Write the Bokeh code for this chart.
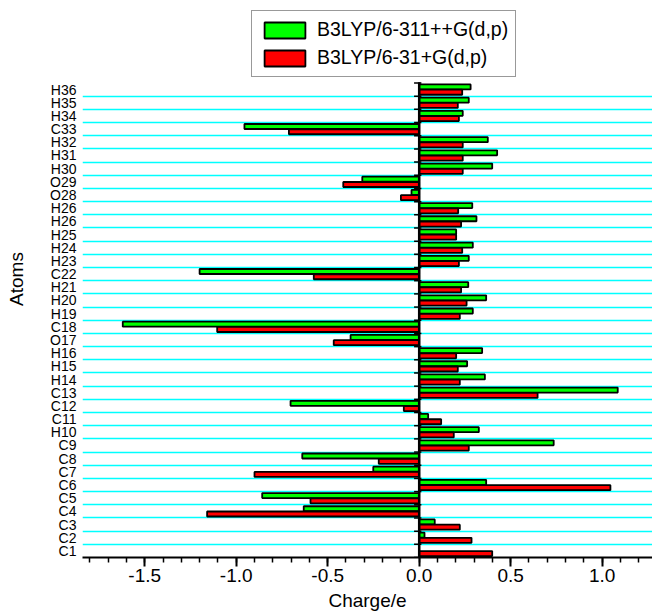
from bokeh.plotting import figure
from bokeh.models import (Range1d, FixedTicker, SingleIntervalTicker, PrintfTickFormatter,
                          CustomJSTickFormatter, Legend, LegendItem, ColumnDataSource)
from bokeh.embed import file_html
from bokeh.resources import INLINE

# ---- data (bottom to top) ----
atoms = ["C1", "C2", "C3", "C4", "C5", "C6", "C7", "C8", "C9", "H10",
         "C11", "C12", "C13", "H14", "H15", "H16", "O17", "C18", "H19", "H20",
         "H21", "C22", "H23", "H24", "H25", "H26", "H26", "O28", "O29", "H30",
         "H31", "H32", "C33", "H34", "H35", "H36"]

b3lyp_6311 = [0.0, 0.029, 0.085, -0.631, -0.858, 0.366, -0.251, -0.639, 0.735, 0.326,
              0.049, -0.703, 1.085, 0.359, 0.262, 0.344, -0.375, -1.62, 0.293, 0.366,
              0.268, -1.20, 0.271, 0.293, 0.202, 0.313, 0.29, -0.042, -0.311, 0.399,
              0.426, 0.375, -0.955, 0.238, 0.271, 0.281]

b3lyp_631 = [0.399, 0.286, 0.222, -1.159, -0.594, 1.045, -0.90, -0.221, 0.271, 0.189,
             0.12, -0.084, 0.647, 0.222, 0.211, 0.202, -0.467, -1.104, 0.222, 0.259,
             0.229, -0.576, 0.217, 0.235, 0.202, 0.229, 0.213, -0.10, -0.415, 0.238,
             0.238, 0.238, -0.712, 0.217, 0.211, 0.235]

series_labels = ["B3LYP/6-311++G(d,p)", "B3LYP/6-31+G(d,p)"]
x_title = "Charge/e"
y_title = "Atoms"

FONT = "Liberation Sans"

n = len(atoms)
pos = list(range(1, n + 1))
boundaries = [k + 0.5 for k in range(0, n + 1)]
inner_boundaries = boundaries[1:-1]

src = ColumnDataSource(dict(
    y_g=[y + 0.2 for y in pos],
    y_r=[y - 0.2 for y in pos],
    g=b3lyp_6311,
    r=b3lyp_631,
))

# layout: frame reaches the top of the canvas so the legend can sit inside it
W, H = 652, 616
LEFT, BOTTOM = 82, 59
FRAME_H = H - BOTTOM
TOP_PX = 82.5
PX_PER_ATOM = (FRAME_H - TOP_PX) / n
y_top = n + 0.5 + TOP_PX / PX_PER_ATOM

p = figure(width=W, height=H, output_backend="svg", toolbar_location=None,
           x_range=Range1d(-1.84, 1.275), y_range=Range1d(0.5, y_top),
           min_border_left=LEFT, min_border_right=0, min_border_top=0,
           min_border_bottom=BOTTOM)
p.outline_line_color = None
p.background_fill_color = "white"
p.border_fill_color = "white"

r1 = p.hbar(y="y_g", height=0.38, left=0, right="g", source=src,
            fill_color="#00ff00", line_color="black", line_width=1.8)
r2 = p.hbar(y="y_r", height=0.38, left=0, right="r", source=src,
            fill_color="#ff0000", line_color="black", line_width=1.8)

# vertical zero axis with ticks at category boundaries
p.segment(x0=[0], x1=[0], y0=[boundaries[0]], y1=[boundaries[-1] + 0.05],
          line_color="black", line_width=2.5)
p.segment(x0=[-0.028] * len(boundaries), x1=[0.012] * len(boundaries),
          y0=boundaries, y1=boundaries, line_color="black", line_width=1.5)

# x axis
xa = p.xaxis[0]
xa.ticker = SingleIntervalTicker(interval=0.5, num_minor_ticks=5)
xa.formatter = PrintfTickFormatter(format="%.1f")
xa.axis_line_width = 2
xa.axis_line_color = "black"
xa.major_tick_line_color = "black"
xa.minor_tick_line_color = "black"
xa.major_tick_out = 9
xa.major_tick_in = 0
xa.minor_tick_out = 5
xa.minor_tick_in = 0
xa.major_tick_line_width = 2
xa.minor_tick_line_width = 1.5
xa.major_label_standoff = 2
xa.major_label_text_font = FONT
xa.major_label_text_font_size = "19px"
xa.major_label_text_color = "black"
xa.axis_label = x_title
xa.axis_label_text_font = FONT
xa.axis_label_text_font_size = "19px"
xa.axis_label_text_font_style = "normal"
xa.axis_label_text_color = "black"
xa.axis_label_standoff = 5

# y axis (labels only)
ya = p.yaxis[0]
ya.ticker = FixedTicker(ticks=pos)
ya.formatter = CustomJSTickFormatter(args=dict(names=atoms),
                                     code="return names[Math.round(tick) - 1];")
ya.axis_line_color = None
ya.major_tick_line_color = None
ya.minor_tick_line_color = None
ya.major_tick_out = 0
ya.major_tick_in = 0
ya.minor_tick_out = 0
ya.minor_tick_in = 0
ya.major_label_standoff = 6
ya.major_label_text_font = FONT
ya.major_label_text_font_size = "14px"
ya.major_label_text_color = "black"
ya.axis_label = y_title
ya.axis_label_text_font = FONT
ya.axis_label_text_font_size = "19px"
ya.axis_label_text_font_style = "normal"
ya.axis_label_text_color = "black"
ya.axis_label_standoff = 20

# grids
p.xgrid.grid_line_color = None
p.ygrid.ticker = FixedTicker(ticks=inner_boundaries)
p.ygrid.grid_line_color = "#00ffff"
p.ygrid.grid_line_width = 1.5

legend = Legend(items=[LegendItem(label=series_labels[0], renderers=[r1]),
                       LegendItem(label=series_labels[1], renderers=[r2])],
                location=(169, FRAME_H - 77), orientation="vertical",
                glyph_width=51, glyph_height=20, label_height=20,
                label_text_font=FONT, label_text_font_size="19.5px",
                label_text_color="black",
                label_standoff=7, padding=7, spacing=5, margin=0,
                border_line_color="#333333", border_line_width=1.5)
p.add_layout(legend, "center")

open("out.html", "w").write(file_html(p, INLINE))
